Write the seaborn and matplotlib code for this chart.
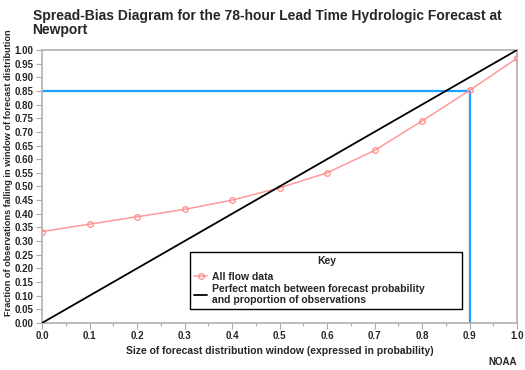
import numpy as np
import pandas as pd
import seaborn as sns
import matplotlib.pyplot as plt
from matplotlib.ticker import MultipleLocator

window_size = [0.0, 0.1, 0.2, 0.3, 0.4, 0.5, 0.6, 0.7, 0.8, 0.9, 1.0]
obs_fraction = [0.335, 0.362, 0.389, 0.416, 0.450, 0.495, 0.550, 0.632, 0.740, 0.852, 0.970]
perfect = [0.0, 1.0]
marker_x = 0.9
marker_y = 0.85

sns.set_style("white")
plt.rcParams['font.family'] = ['Liberation Sans', 'DejaVu Sans']

fig = plt.figure(figsize=(5.25, 3.7), dpi=100)
ax = fig.add_axes([0.08, 0.127, 0.905, 0.738])

df = pd.DataFrame({"x": window_size, "y": obs_fraction})

# blue guide lines
ax.plot([0, marker_x], [marker_y, marker_y], color="#1aa3ff", lw=1.6, zorder=2)
ax.plot([marker_x, marker_x], [0, marker_y], color="#1aa3ff", lw=1.6, zorder=2)

sns.lineplot(data=df, x="x", y="y", ax=ax, color="#ff9a9a", lw=1.1, marker="o",
             markersize=4, markerfacecolor="none", markeredgecolor="#ff8a8a",
             markeredgewidth=0.9, label="All flow data", zorder=3)
sns.lineplot(x=perfect, y=perfect, ax=ax, color="black", lw=1.3,
             label="Perfect match between forecast probability\nand proportion of observations", zorder=4)

ax.set_xlim(0, 1)
ax.set_ylim(0, 1)
ax.xaxis.set_major_locator(MultipleLocator(0.1))
ax.xaxis.set_minor_locator(MultipleLocator(0.05))
ax.yaxis.set_major_locator(MultipleLocator(0.05))
ax.tick_params(axis="both", which="major", length=4, width=0.8, color="#aaaaaa", labelsize=7, pad=2)
ax.tick_params(axis="x", which="minor", length=2, width=0.8, color="#aaaaaa")
ax.tick_params(bottom=True, left=True, which="both")
ax.set_xticklabels([f"{v:.1f}" for v in ax.get_xticks()], fontweight="bold", fontsize=7)
ax.set_yticklabels([f"{v:.2f}" for v in ax.get_yticks()], fontweight="bold", fontsize=7)
ax.set_xlim(0, 1)
ax.set_ylim(0, 1)

for s in ax.spines.values():
    s.set_color("#b0b0b0")
    s.set_linewidth(1.2)

ax.set_xlabel("Size of forecast distribution window (expressed in probability)",
              fontsize=7.5, fontweight="bold", labelpad=3)
ax.set_ylabel("Fraction of observations falling in window of forecast distribution",
              fontsize=6.6, fontweight="bold")
ax.yaxis.set_label_coords(-0.062, 0.55)

leg = ax.legend(loc="lower left", bbox_to_anchor=(0.312, 0.05, 0.573, 0.21), mode="expand",
                borderaxespad=0, title="Key", fancybox=False, framealpha=1, edgecolor="black",
                prop={"size": 7.5, "weight": "bold"}, handlelength=1.2, handletextpad=0.5,
                borderpad=0.4, labelspacing=0.2)
leg.get_title().set_fontweight("bold")
leg.get_title().set_fontsize(7.5)
leg._legend_box.sep = 4
leg.get_frame().set_linewidth(1.0)

fig.text(0.062, 0.975, "Spread-Bias Diagram for the 78-hour Lead Time Hydrologic Forecast at\nNewport",
         fontsize=10, fontweight="bold", va="top", ha="left", linespacing=0.95)
fig.text(0.985, 0.008, "NOAA", fontsize=7, fontweight="bold", ha="right", va="bottom")

fig.savefig("out.png", dpi=100)
